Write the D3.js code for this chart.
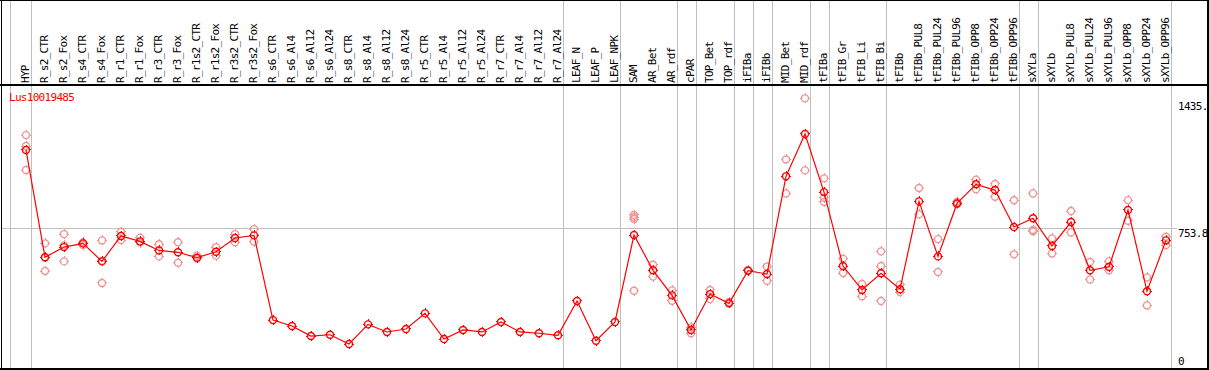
<!DOCTYPE html>
<head>
<meta charset="utf-8">
<style>
body { margin: 0; background: #fff; }
text { font-family: "DejaVu Sans Mono", monospace; font-size: 11px; letter-spacing: -0.7px; }
</style>
</head>
<body>
<script src="https://cdn.jsdelivr.net/npm/d3@7"></script>
<script>

var gene = "Lus10019485";

var categories = ["HYP","R_s2_CTR","R_s2_Fox","R_s4_CTR","R_s4_Fox","R_r1_CTR","R_r1_Fox","R_r3_CTR","R_r3_Fox",
  "R_r1s2_CTR","R_r1s2_Fox","R_r3s2_CTR","R_r3s2_Fox","R_s6_CTR","R_s6_Al4","R_s6_Al12","R_s6_Al24",
  "R_s8_CTR","R_s8_Al4","R_s8_Al12","R_s8_Al24","R_r5_CTR","R_r5_Al4","R_r5_Al12","R_r5_Al24",
  "R_r7_CTR","R_r7_Al4","R_r7_Al12","R_r7_Al24","LEAF_N","LEAF_P","LEAF_NPK","SAM","AR_Bet","AR_rdf",
  "cPAR","TOP_Bet","TOP_rdf","iFIBa","iFIBb","MID_Bet","MID_rdf","tFIBa","tFIB_Gr","tFIB_Li","tFIB_Bi",
  "tFIBb","tFIBb_PUL8","tFIBb_PUL24","tFIBb_PUL96","tFIBb_OPP8","tFIBb_OPP24","tFIBb_OPP96",
  "sXYLa","sXYLb","sXYLb_PUL8","sXYLb_PUL24","sXYLb_PUL96","sXYLb_OPP8","sXYLb_OPP24","sXYLb_OPP96"];

// mean expression per sample
var means = [1174,596,651,671,574,711,682,633,623,594,626,700,714,258,226,172,179,129,235,194,210,294,156,205,194,
  248,194,187,176,361,147,248,716,526,391,205,398,348,524,506,1032,1260,947,549,420,510,424,897,601,886,989,958,759,
  806,657,786,526,545,851,413,687];

// replicate values (empty = only the mean is drawn)
var replicates = [[1254,1195,1066],[671,522,595],[721,574,660],[676,662],[687,458,577],[734,689],[702,675],[666,601],
  [677,567],[605,590],[651,605],[721,677],[748,680],[],[],[],[],[],[],[],[],[],[],[],[],[],[],[],[],[],[],[],
  [824,812,802,416],[556,492],[418,362],[219,187],[420,372],[356,348],[528],[546,470],[1123,940],[1452,1064],
  [1021,917,894],[589,511],[452,386],[628,549,361],[449,409],[969,827],[694,517],[894,881],[1014,962],[991,922],
  [903,612],[940,743,736],[698,617],[845,730],[571,477],[574,526],[904,793],[488,337],[707,662]];

// vertical separators drawn after these samples
var groupEnds = ["HYP","R_r7_Al24","LEAF_NPK","AR_rdf","cPAR","TOP_rdf","iFIBa","iFIBb","MID_rdf","tFIBa",
  "tFIB_Bi","tFIBb_OPP96","sXYLa","sXYLb_OPP96"];

var yTicks = [0, 753.8, 1435];
var yTickLabels = ["0", "753.8", "1435."];

var width = 1209, height = 370;

var svg = d3.select("body").append("svg")
    .attr("width", width)
    .attr("height", height)
    .attr("shape-rendering", "crispEdges");

var x = d3.scalePoint().domain(categories).range([26, 1166]);
var y = d3.scaleLinear().domain([0, 1507.6]).range([368, 88]);

// grid
svg.append("line").attr("x1", 10.5).attr("x2", 10.5).attr("y1", 0).attr("y2", 369)
    .attr("stroke", "#c0c0c0");
svg.selectAll("line.vgrid").data(groupEnds).enter().append("line")
    .attr("class", "vgrid")
    .attr("x1", function(d) { return Math.round(x(d) + 4.5) + 0.5; })
    .attr("x2", function(d) { return Math.round(x(d) + 4.5) + 0.5; })
    .attr("y1", 0).attr("y2", 369)
    .attr("stroke", "#c0c0c0");
svg.append("line").attr("x1", 1).attr("x2", 1177)
    .attr("y1", Math.round(y(753.8)) + 0.5).attr("y2", Math.round(y(753.8)) + 0.5)
    .attr("stroke", "#c0c0c0");

// frame
svg.append("line").attr("x1", 0).attr("x2", width).attr("y1", 0.5).attr("y2", 0.5).attr("stroke", "#000");
svg.append("line").attr("x1", 1.5).attr("x2", 1.5).attr("y1", 0).attr("y2", 370).attr("stroke", "#000");
svg.append("line").attr("x1", 1208).attr("x2", 1208).attr("y1", 0).attr("y2", 370)
    .attr("stroke", "#000").attr("stroke-width", 2);
svg.append("line").attr("x1", 0).attr("x2", width).attr("y1", 85).attr("y2", 85)
    .attr("stroke", "#000").attr("stroke-width", 2);
svg.append("line").attr("x1", 0).attr("x2", width).attr("y1", 369).attr("y2", 369)
    .attr("stroke", "#000").attr("stroke-width", 2);

// sample labels
svg.selectAll("text.cat").data(categories).enter().append("text")
    .attr("class", "cat")
    .attr("transform", function(d) { return "translate(" + (x(d) + 3) + ",83) rotate(-90)"; })
    .text(function(d) { return d; });

// y labels
svg.selectAll("text.ytick").data(yTicks).enter().append("text")
    .attr("class", "ytick")
    .attr("x", 1178)
    .attr("y", function(d) { return Math.min(y(d) + 8.5, 365); })
    .text(function(d, i) { return yTickLabels[i]; });

svg.append("text").attr("x", 9).attr("y", 101).attr("fill", "#ff0000").text(gene);

function marker(g, cx, cy, color) {
  var r = 3.5;
  g.append("circle").attr("cx", cx).attr("cy", cy).attr("r", r)
      .attr("shape-rendering", "auto")
      .attr("fill", "none").attr("stroke", color).attr("stroke-width", 1.4);
  g.append("path")
      .attr("d", "M" + cx + "," + (cy - r - 1.5) + "V" + (cy - r) +
                 "M" + cx + "," + (cy + r) + "V" + (cy + r + 1.5) +
                 "M" + (cx - r - 1.5) + "," + cy + "H" + (cx - r) +
                 "M" + (cx + r) + "," + cy + "H" + (cx + r + 1.5))
      .attr("stroke", color).attr("stroke-width", 1);
}

// replicates
var repG = svg.append("g");
replicates.forEach(function(reps, i) {
  reps.forEach(function(v) { marker(repG, x(categories[i]), y(v), "#f09595"); });
});

// mean line
var line = d3.line()
    .x(function(d, i) { return x(categories[i]); })
    .y(function(d) { return y(d); });
svg.append("path").datum(means)
    .attr("d", line)
    .attr("shape-rendering", "auto")
    .attr("fill", "none")
    .attr("stroke", "#ff0000")
    .attr("stroke-width", 1.2);

var meanG = svg.append("g");
means.forEach(function(v, i) { marker(meanG, x(categories[i]), y(v), "#ff0000"); });

</script>
</body>
</html>
